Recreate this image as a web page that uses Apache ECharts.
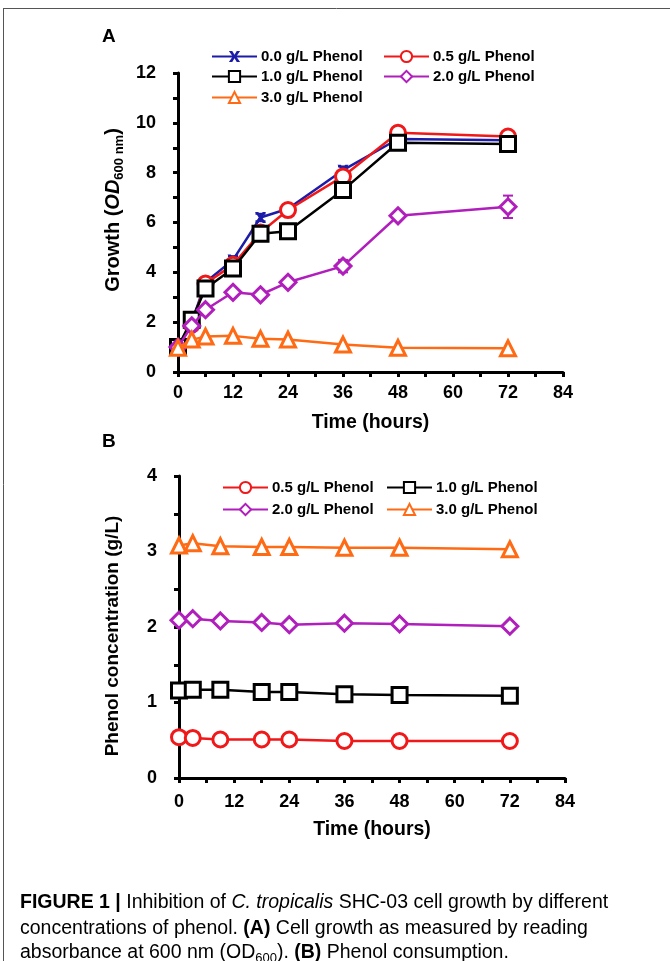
<!DOCTYPE html>
<html><head><meta charset="utf-8">
<script src="https://cdn.jsdelivr.net/npm/echarts@6/dist/echarts.min.js"></script>
<style>html,body{margin:0;padding:0;background:#fff}#c{width:670px;height:961px}</style>
</head><body><div id="c"></div>
<script>
// ---------- data ----------
const timeTicks = [0, 12, 24, 36, 48, 60, 72, 84];
const growthTicks = [0, 2, 4, 6, 8, 10, 12];
const phenolTicks = [0, 1, 2, 3, 4];

const timeA = [0, 3, 6, 12, 18, 24, 36, 48, 72];
const growth00 = [1.0, 2.0, 3.6, 4.5, 6.2, 6.55, 8.1, 9.35, 9.3];
const growth05 = [1.0, 1.9, 3.55, 4.3, 5.6, 6.5, 7.85, 9.6, 9.45];
const growth10 = [1.0, 2.1, 3.35, 4.15, 5.55, 5.65, 7.3, 9.2, 9.15];
const growth20 = [1.0, 1.85, 2.5, 3.2, 3.1, 3.6, 4.25, 6.27, 6.63];
const growth30 = [0.97, 1.3, 1.42, 1.45, 1.33, 1.3, 1.1, 0.97, 0.95];
const err00 = [0, 0, 0.12, 0.15, 0.15, 0.1, 0.15, 0.1, 0.1];
const err05 = [0, 0, 0.1, 0.1, 0.1, 0.1, 0.1, 0.25, 0.15];
const err10 = [0, 0, 0.1, 0.1, 0.1, 0.1, 0.15, 0.1, 0.15];
const err20 = [0, 0, 0.1, 0.1, 0.1, 0.1, 0.25, 0.15, 0.45];
const err30 = [0, 0, 0, 0, 0, 0, 0, 0, 0];

const timeB = [0, 3, 9, 18, 24, 36, 48, 72];
const phenol05 = [0.54, 0.53, 0.51, 0.51, 0.51, 0.49, 0.49, 0.49];
const phenol10 = [1.16, 1.17, 1.17, 1.14, 1.14, 1.11, 1.10, 1.09];
const phenol20 = [2.09, 2.11, 2.08, 2.06, 2.03, 2.05, 2.04, 2.01];
const phenol30 = [3.08, 3.11, 3.07, 3.06, 3.06, 3.05, 3.05, 3.03];

const names = ['0.0 g/L Phenol', '0.5 g/L Phenol', '1.0 g/L Phenol', '2.0 g/L Phenol', '3.0 g/L Phenol'];
const colors = ['#1c1ca8', '#f01818', '#000000', '#b01ebc', '#ff6a14'];
const XSYM = 'path://M0,0L3,0L5,3.5L7,0L10,0L6.6,5L10,10L7,10L5,6.5L3,10L0,10L3.4,5Z';
const symbols = [XSYM, 'circle', 'rect', 'diamond', 'triangle'];

// ---------- helpers ----------
const FONT = 'Liberation Sans, Arial, sans-serif';
function lineSeries(k, xs, ys, gi) {
  const c = colors[k];
  return {
    name: names[k], type: 'line', xAxisIndex: gi, yAxisIndex: gi,
    data: xs.map((x, i) => [x, ys[i]]),
    symbol: symbols[k], symbolSize: k === 0 ? 11 : (k === 3 ? 16 : 15), showAllSymbol: true, z: 3 + k,
    lineStyle: { color: c, width: 2.5 },
    itemStyle: k === 0 ? { color: c } : { color: '#fff', borderColor: c, borderWidth: 3 },
    emphasis: { disabled: true }, animation: false
  };
}
function errSeries(k, xs, ys, es, gi) {
  const c = colors[k];
  const d = [];
  xs.forEach((x, i) => { if (es[i] > 0) d.push([x, ys[i] - es[i], ys[i] + es[i]]); });
  return {
    type: 'custom', xAxisIndex: gi, yAxisIndex: gi, z: 3 + k, silent: true, animation: false,
    data: d,
    renderItem(params, api) {
      const lo = api.coord([api.value(0), api.value(1)]);
      const hi = api.coord([api.value(0), api.value(2)]);
      const w = 5, st = { stroke: c, lineWidth: 2 };
      return { type: 'group', children: [
        { type: 'line', shape: { x1: lo[0], y1: lo[1], x2: hi[0], y2: hi[1] }, style: st },
        { type: 'line', shape: { x1: lo[0] - w, y1: lo[1], x2: lo[0] + w, y2: lo[1] }, style: st },
        { type: 'line', shape: { x1: hi[0] - w, y1: hi[1], x2: hi[0] + w, y2: hi[1] }, style: st }
      ] };
    }
  };
}
const axLine = { show: true, onZero: false, lineStyle: { color: '#000', width: 3 } };
const axTick = { show: true, length: 5, lineStyle: { color: '#000', width: 3 } };
const mnTick = { show: true, splitNumber: 2, length: 5, lineStyle: { color: '#000', width: 3 } };
function xAxis(gi, margin, nameGap) {
  return {
    type: 'value', gridIndex: gi, min: timeTicks[0], max: timeTicks[timeTicks.length - 1],
    interval: timeTicks[1] - timeTicks[0],
    axisLine: axLine, axisTick: axTick, minorTick: mnTick, splitLine: { show: false },
    axisLabel: { margin, fontSize: 18, fontWeight: 'bold', color: '#000', fontFamily: FONT },
    name: 'Time (hours)', nameLocation: 'middle', nameGap,
    nameTextStyle: { fontSize: 19.5, fontWeight: 'bold', color: '#000', fontFamily: FONT }
  };
}
function yAxis(gi, ticks) {
  return {
    type: 'value', gridIndex: gi, min: ticks[0], max: ticks[ticks.length - 1],
    interval: ticks[1] - ticks[0],
    axisLine: axLine, axisTick: axTick, minorTick: mnTick, splitLine: { show: false },
    axisLabel: { margin: 22, fontSize: 18, fontWeight: 'bold', color: '#000', fontFamily: FONT }
  };
}
function legendItem(k, left, cy) {
  return {
    data: [names[k]], left, top: cy - 8, padding: 0, itemWidth: 45, itemHeight: 14, itemGap: 0,
    selectedMode: false,
    textStyle: { fontSize: 15, fontWeight: 'bold', color: '#000', fontFamily: FONT, padding: [0, 0, 0, -1] }
  };
}
const capBase = { fontSize: 19.5, fontFamily: FONT, color: '#333' };
const capRich = {
  n: capBase,
  b: Object.assign({}, capBase, { fontWeight: 'bold', color: '#111' }),
  i: Object.assign({}, capBase, { fontStyle: 'italic' }),
  s: Object.assign({}, capBase, { fontSize: 13, verticalAlign: 'bottom', lineHeight: 24 })
};

const option = {
  backgroundColor: '#fff',
  animation: false,
  grid: [
    { left: 178, right: 107, top: 73, bottom: 589 },
    { left: 179, right: 105, top: 476, bottom: 183 }
  ],
  xAxis: [xAxis(0, 12, 41), xAxis(1, 15, 42)],
  yAxis: [yAxis(0, growthTicks), yAxis(1, phenolTicks)],
  legend: [
    legendItem(0, 211, 57), legendItem(1, 383, 57),
    legendItem(2, 211, 77), legendItem(3, 383, 77),
    legendItem(4, 211, 98),
    legendItem(1, 222, 488), legendItem(2, 386, 488),
    legendItem(3, 222, 510), legendItem(4, 386, 510)
  ],
  series: [
    errSeries(0, timeA, growth00, err00, 0), lineSeries(0, timeA, growth00, 0),
    errSeries(1, timeA, growth05, err05, 0), lineSeries(1, timeA, growth05, 0),
    errSeries(2, timeA, growth10, err10, 0), lineSeries(2, timeA, growth10, 0),
    errSeries(3, timeA, growth20, err20, 0), lineSeries(3, timeA, growth20, 0),
    errSeries(4, timeA, growth30, err30, 0), lineSeries(4, timeA, growth30, 0),
    lineSeries(1, timeB, phenol05, 1), lineSeries(2, timeB, phenol10, 1),
    lineSeries(3, timeB, phenol20, 1), lineSeries(4, timeB, phenol30, 1)
  ],
  graphic: [
    { type: 'line', shape: { x1: 3, y1: 8.5, x2: 670, y2: 8.5 }, style: { stroke: '#555', lineWidth: 1 } },
    { type: 'line', shape: { x1: 3.5, y1: 8, x2: 3.5, y2: 961 }, style: { stroke: '#555', lineWidth: 1 } },
    { type: 'text', left: 102, top: 27, style: { text: 'A', fontSize: 19, fontWeight: 'bold', fill: '#000', fontFamily: FONT } },
    { type: 'text', left: 102, top: 432, style: { text: 'B', fontSize: 19, fontWeight: 'bold', fill: '#000', fontFamily: FONT } },
    { type: 'text', x: 113, y: 210, rotation: Math.PI / 2,
      style: { text: '{a|Growth (}{i|OD}{s|600 nm}{a|)}', align: 'center', verticalAlign: 'middle',
        rich: {
          a: { fontSize: 20, fontWeight: 'bold', fill: '#000', fontFamily: FONT, lineHeight: 26 },
          i: { fontSize: 20, fontWeight: 'bold', fontStyle: 'italic', fill: '#000', fontFamily: FONT, lineHeight: 26 },
          s: { fontSize: 13, fontWeight: 'bold', fill: '#000', fontFamily: FONT, verticalAlign: 'bottom', lineHeight: 26 }
        } } },
    { type: 'text', x: 113, y: 636, rotation: Math.PI / 2,
      style: { text: 'Phenol concentration (g/L)', align: 'center', verticalAlign: 'middle',
        fontSize: 19, fontWeight: 'bold', fill: '#000', fontFamily: FONT } },
    { type: 'text', x: 20, y: 903,
      style: { text: '{b|FIGURE 1 |}{n| Inhibition of }{i|C. tropicalis}{n| SHC-03 cell growth by different}',
        verticalAlign: 'middle', rich: capRich } },
    { type: 'text', x: 20, y: 929,
      style: { text: '{n|concentrations of phenol. }{b|(A)}{n| Cell growth as measured by reading}',
        verticalAlign: 'middle', rich: capRich } },
    { type: 'text', x: 20, y: 953,
      style: { text: '{n|absorbance at 600 nm (OD}{s|600}{n|). }{b|(B)}{n| Phenol consumption.}',
        verticalAlign: 'middle', rich: capRich } }
  ]
};
const chart = echarts.init(document.getElementById('c'), null, { renderer: 'canvas' });
chart.setOption(option);
</script>
</body></html>
